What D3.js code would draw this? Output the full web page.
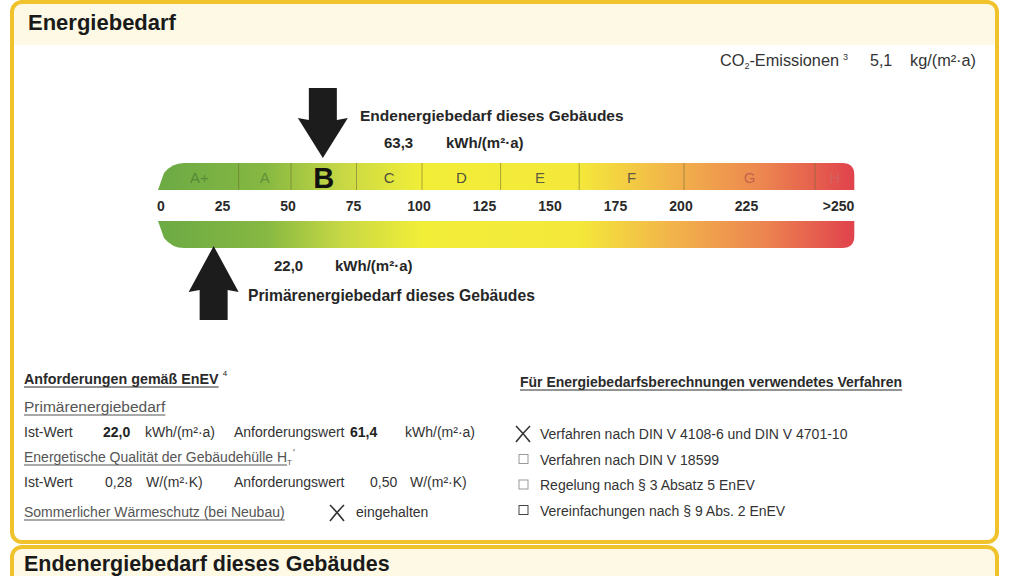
<!DOCTYPE html>
<html>
<head>
<meta charset="utf-8">
<script src="https://cdn.jsdelivr.net/npm/d3@7"></script>
<style>
  body { margin: 0; background: #fff; }
  svg { display: block; font-family: "Liberation Sans", Arial, sans-serif; }
</style>
</head>
<body>
<div id="chart"></div>
<script>
// classes of the energy scale (EnEV)
var classLabels = ["A+", "A", "B", "C", "D", "E", "F", "G", "H"];
var classStarts = [0, 30, 50, 75, 100, 130, 160, 200, 250];
var classEnds = [30, 50, 75, 100, 130, 160, 200, 250, 265];
var tickValues = [0, 25, 50, 75, 100, 125, 150, 175, 200, 225, 250];
var tickLabels = ["0", "25", "50", "75", "100", "125", "150", "175", "200", "225", ">250"];
var gradientValues = [0, 40, 70, 100, 160, 195, 230, 265];
var gradientColors = ["#6caa44", "#86b842", "#c8d844", "#f2ee38", "#f4e83a", "#f2b44a", "#ec8650", "#e0424c"];

var endEnergy = 63.3, endEnergyLabel = "63,3";
var primaryEnergy = 22.0, primaryEnergyLabel = "22,0";
var co2Label = "5,1";

var width = 1024, height = 576;

var svg = d3.select("#chart").append("svg")
  .attr("width", width)
  .attr("height", height);

var x = d3.scaleLinear().domain([0, 250]).range([160, 815]);

// gradient
var defs = svg.append("defs");
var grad = defs.append("linearGradient")
  .attr("id", "energyGrad")
  .attr("gradientUnits", "userSpaceOnUse")
  .attr("x1", x(0)).attr("x2", x(265)).attr("y1", 0).attr("y2", 0);
grad.selectAll("stop")
  .data(gradientValues).enter()
  .append("stop")
  .attr("offset", function(d){ return d / 265; })
  .attr("stop-color", function(d, i){ return gradientColors[i]; });

// OUTER BOXES
svg.append("rect")
  .attr("x", 12).attr("y", 2)
  .attr("width", 985).attr("height", 540)
  .attr("rx", 10)
  .attr("fill", "#fff");
svg.append("path")
  .attr("d", "M14,45 L14,12 Q14,4 22,4 L987,4 Q995,4 995,12 L995,45 Z")
  .attr("fill", "#fdf9e4");
svg.append("rect")
  .attr("x", 12).attr("y", 2)
  .attr("width", 985).attr("height", 540)
  .attr("rx", 10)
  .attr("fill", "none")
  .attr("stroke", "#f0c22c")
  .attr("stroke-width", 4);

// second box
svg.append("rect")
  .attr("x", 12).attr("y", 547)
  .attr("width", 985).attr("height", 60)
  .attr("rx", 10)
  .attr("fill", "#fdf9e4")
  .attr("stroke", "#f0c22c")
  .attr("stroke-width", 4);
svg.append("rect")
  .attr("x", 1000).attr("y", 0)
  .attr("width", 24).attr("height", height)
  .attr("fill", "#fff");

svg.append("text")
  .attr("x", 28).attr("y", 30)
  .attr("font-size", 22).attr("font-weight", "bold")
  .attr("fill", "#1a1a1a")
  .text("Energiebedarf");

svg.append("text")
  .attr("x", 24).attr("y", 571)
  .attr("font-size", 21.5).attr("font-weight", "bold")
  .attr("fill", "#1a1a1a")
  .text("Endenergiebedarf dieses Gebäudes");

// CO2
var co2 = svg.append("text")
  .attr("x", 720).attr("y", 66)
  .attr("font-size", 16.3).attr("fill", "#333");
co2.append("tspan").text("CO");
co2.append("tspan").attr("font-size", 9).attr("dy", 3).text("2");
co2.append("tspan").attr("dy", -3).text("-Emissionen");
co2.append("tspan").attr("font-size", 9).attr("dy", -6).attr("dx", 4).text("3");
svg.append("text").attr("x", 870).attr("y", 66)
  .attr("font-size", 16).attr("fill", "#333").text(co2Label);
svg.append("text").attr("x", 910).attr("y", 66)
  .attr("font-size", 16.3).attr("fill", "#333").text("kg/(m²·a)");

// BARS
var barTop = 163, barH = 27, bar2Top = 221;
var x0 = x(0) - 2, x1 = x(265);
svg.append("path")
  .attr("d", "M" + x0 + "," + (barTop + barH) + " L" + (x0 + 6) + "," + (barTop + 10)
    + " Q" + (x0 + 14) + "," + barTop + " " + (x0 + 26) + "," + barTop
    + " L" + (x1 - 12) + "," + barTop
    + " Q" + x1 + "," + barTop + " " + x1 + "," + (barTop + 12)
    + " L" + x1 + "," + (barTop + barH) + " Z")
  .attr("fill", "url(#energyGrad)");

svg.append("path")
  .attr("d", "M" + x0 + "," + bar2Top + " L" + x1 + "," + bar2Top
    + " L" + x1 + "," + (bar2Top + barH - 12)
    + " Q" + x1 + "," + (bar2Top + barH) + " " + (x1 - 12) + "," + (bar2Top + barH)
    + " L" + (x0 + 26) + "," + (bar2Top + barH)
    + " Q" + (x0 + 14) + "," + (bar2Top + barH) + " " + (x0 + 6) + "," + (bar2Top + barH - 10)
    + " Z")
  .attr("fill", "url(#energyGrad)");

// class dividers
svg.selectAll(".divider")
  .data(classStarts.slice(1)).enter()
  .append("line")
  .attr("class", "divider")
  .attr("x1", function(d){ return x(d); })
  .attr("x2", function(d){ return x(d); })
  .attr("y1", barTop).attr("y2", barTop + barH)
  .attr("stroke", "#6a6a30")
  .attr("stroke-opacity", 0.55)
  .attr("stroke-width", 1);

// class labels
var labelColors = ["#4a7a34", "#4a7a34", "#111", "#3a3a3a", "#3a3a3a", "#444", "#444", "#b0504a", "#c87070"];
var labelOpacity = [0.7, 0.65, 1, 0.9, 0.9, 0.85, 0.85, 0.7, 0.55];
svg.selectAll(".cls")
  .data(classLabels).enter()
  .append("text")
  .attr("class", "cls")
  .attr("x", function(d, i){ return x((classStarts[i] + classEnds[i]) / 2); })
  .attr("y", function(d){ return d === "B" ? barTop + 25 : barTop + 20; })
  .attr("text-anchor", "middle")
  .attr("font-size", function(d){ return d === "B" ? 29 : 15; })
  .attr("font-weight", function(d){ return d === "B" ? "bold" : "normal"; })
  .attr("fill", function(d, i){ return labelColors[i]; })
  .attr("fill-opacity", function(d, i){ return labelOpacity[i]; })
  .text(function(d){ return d; });

// ticks
svg.selectAll(".tick")
  .data(tickValues).enter()
  .append("text")
  .attr("class", "tick")
  .attr("x", function(d, i){ return i === 0 ? x(d) - 3 : (i === tickValues.length - 1 ? x(265) : x(d) - 3); })
  .attr("y", 211)
  .attr("text-anchor", function(d, i){ return i === 0 ? "start" : (i === tickValues.length - 1 ? "end" : "middle"); })
  .attr("font-size", 14)
  .attr("font-weight", "bold")
  .attr("fill", "#2a2a2a")
  .text(function(d, i){ return tickLabels[i]; });

// ARROWS
function downArrow(cx, tipY, topY) {
  return "M" + (cx - 14) + "," + topY + " L" + (cx + 14) + "," + topY
    + " L" + (cx + 14) + "," + (tipY - 38)
    + " L" + (cx + 25) + "," + (tipY - 40)
    + " L" + cx + "," + tipY
    + " L" + (cx - 25) + "," + (tipY - 40)
    + " L" + (cx - 14) + "," + (tipY - 38) + " Z";
}
function upArrow(cx, tipY, botY) {
  return "M" + (cx - 14) + "," + botY + " L" + (cx + 14) + "," + botY
    + " L" + (cx + 14) + "," + (tipY + 44)
    + " L" + (cx + 25) + "," + (tipY + 46)
    + " L" + cx + "," + tipY
    + " L" + (cx - 25) + "," + (tipY + 46)
    + " L" + (cx - 14) + "," + (tipY + 44) + " Z";
}
svg.append("path")
  .attr("d", downArrow(x(endEnergy) - 3, 158, 88))
  .attr("fill", "#1c1c1c");
svg.append("path")
  .attr("d", upArrow(x(primaryEnergy) - 4, 246, 320))
  .attr("fill", "#1c1c1c");

// arrow labels
svg.append("text").attr("x", 360).attr("y", 121)
  .attr("font-size", 15.5).attr("font-weight", "bold").attr("fill", "#262626")
  .text("Endenergiebedarf dieses Gebäudes");
svg.append("text").attr("x", 384).attr("y", 148)
  .attr("font-size", 15).attr("font-weight", "bold").attr("fill", "#262626").text(endEnergyLabel);
svg.append("text").attr("x", 446).attr("y", 148)
  .attr("font-size", 15).attr("font-weight", "bold").attr("fill", "#262626").text("kWh/(m²·a)");

svg.append("text").attr("x", 274).attr("y", 271)
  .attr("font-size", 15).attr("font-weight", "bold").attr("fill", "#262626").text(primaryEnergyLabel);
svg.append("text").attr("x", 335).attr("y", 271)
  .attr("font-size", 15).attr("font-weight", "bold").attr("fill", "#262626").text("kWh/(m²·a)");
svg.append("text").attr("x", 248).attr("y", 301)
  .attr("font-size", 15.7).attr("font-weight", "bold").attr("fill", "#262626")
  .text("Primärenergiebedarf dieses Gebäudes");

// LOWER SECTION
function txt(xp, yp, s, opts) {
  opts = opts || {};
  var t = svg.append("text")
    .attr("x", xp).attr("y", yp)
    .attr("font-size", opts.size || 14)
    .attr("font-weight", opts.bold ? "bold" : "normal")
    .attr("fill", opts.color || "#333")
    .text(s);
  if (opts.underline) {
    var w = t.node().getComputedTextLength();
    svg.append("line")
      .attr("x1", xp).attr("x2", xp + w)
      .attr("y1", yp + 3).attr("y2", yp + 3)
      .attr("stroke", opts.color || "#333")
      .attr("stroke-width", 1);
  }
  return t;
}

var t1 = txt(24, 384, "Anforderungen gemäß EnEV", {underline: true, bold: true, color: "#2a2a2a", size: 14.3});
svg.append("text").attr("x", 24 + t1.node().getComputedTextLength() + 4).attr("y", 376)
  .attr("font-size", 8).attr("fill", "#222").text("4");
txt(24, 412, "Primärenergiebedarf", {underline: true, color: "#555", size: 15.5});
txt(24, 437, "Ist-Wert");
txt(103, 437, "22,0", {bold: true, color: "#222"});
txt(145, 437, "kWh/(m²·a)");
txt(234, 437, "Anforderungswert");
txt(350, 437, "61,4", {bold: true, color: "#222"});
txt(405, 437, "kWh/(m²·a)");
var t2 = txt(24, 462, "Energetische Qualität der Gebäudehülle H", {underline: true, color: "#555"});
var t2w = t2.node().getComputedTextLength();
svg.append("text").attr("x", 24 + t2w).attr("y", 465)
  .attr("font-size", 8).attr("fill", "#555").text("T");
svg.append("text").attr("x", 24 + t2w + 6).attr("y", 457)
  .attr("font-size", 10).attr("fill", "#555").text("'");
txt(24, 487, "Ist-Wert");
txt(105, 487, "0,28");
txt(146, 487, "W/(m²·K)");
txt(234, 487, "Anforderungswert");
txt(370, 487, "0,50");
txt(410, 487, "W/(m²·K)");
txt(24, 517, "Sommerlicher Wärmeschutz (bei Neubau)", {underline: true, color: "#555"});

function cross(cx, cy) {
  svg.append("path")
    .attr("d", "M" + (cx - 7) + "," + (cy - 8) + " Q" + cx + "," + (cy - 1) + " " + (cx + 7) + "," + (cy + 8)
      + " M" + (cx + 7) + "," + (cy - 8) + " Q" + cx + "," + (cy - 1) + " " + (cx - 7) + "," + (cy + 8))
    .attr("stroke", "#333").attr("stroke-width", 1.6).attr("fill", "none");
}
cross(337, 513);
txt(356, 517, "eingehalten");

txt(520, 387, "Für Energiebedarfsberechnungen verwendetes Verfahren", {underline: true, bold: true, color: "#2a2a2a", size: 14});

var methods = ["Verfahren nach DIN V 4108-6 und DIN V 4701-10", "Verfahren nach DIN V 18599",
  "Regelung nach § 3 Absatz 5 EnEV", "Vereinfachungen nach § 9 Abs. 2 EnEV"];
var methodChecked = [true, false, false, false];
methods.forEach(function(m, i){
  var yy = 439 + i * 25.5;
  if (methodChecked[i]) cross(523, yy - 5);
  else svg.append("rect")
    .attr("x", 519).attr("y", yy - 10)
    .attr("width", 9).attr("height", 9)
    .attr("fill", "none").attr("stroke", i === 3 ? "#444" : "#999").attr("stroke-width", 1);
  txt(540, yy, m, {color: "#333"});
});
</script>
</body>
</html>
